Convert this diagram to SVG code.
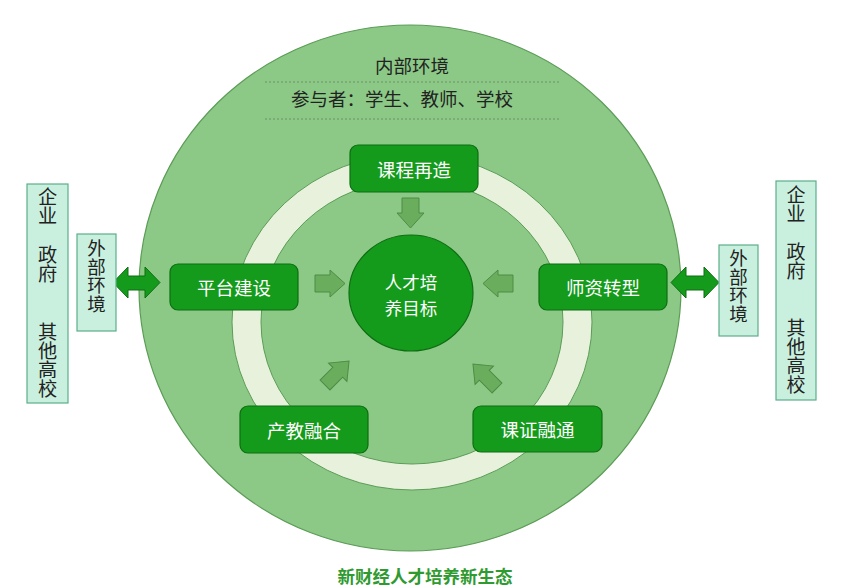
<svg xmlns="http://www.w3.org/2000/svg" width="857" height="587" viewBox="0 0 857 587">
<style>
text{font-family:"Noto Sans CJK SC","Noto Sans",sans-serif;dominant-baseline:central;text-anchor:middle}
.box{fill:#159b1b;stroke:#0d6e12;stroke-width:1.2}
.wt{fill:#ffffff;font-size:18.5px}
.dk{fill:#222222;font-size:18.5px}
.vt{fill:#222222;writing-mode:vertical-rl}
.mint{fill:#c9f0df;stroke:#5cae8a;stroke-width:1.2}
.arr{fill:#6aad5c;stroke:#4d8c45;stroke-width:1}
.dbl{fill:#159b1b;stroke:#0d6e12;stroke-width:1}
.dot{stroke:#6f8f6b;stroke-width:1.2;stroke-dasharray:2 2;fill:none}
</style>
<rect width="857" height="587" fill="#ffffff"/>
<g id="outer-circle">
<ellipse cx="410" cy="288" rx="271" ry="263" fill="#8cc986" stroke="#5c9c57" stroke-width="1.2"/>
</g>
<g id="ring">
<ellipse cx="412" cy="322" rx="180" ry="168" fill="#e7f1dc" stroke="#5c9c57" stroke-width="1"/>
<ellipse cx="412" cy="322" rx="151" ry="142" fill="#8cc986" stroke="#5c9c57" stroke-width="1"/>
</g>
<g id="inner-env">
<text class="dk" x="412" y="65">内部环境</text>
<line class="dot" x1="265" y1="82" x2="560" y2="82"/>
<text class="dk" x="402" y="98">参与者：学生、教师、学校</text>
<line class="dot" x1="265" y1="119" x2="560" y2="119"/>
</g>
<g id="connectors">
<polygon class="arr" points="402,198 419,198 419,213 424,213 410.5,228 397,213 402,213"/>
<polygon class="arr" points="315,275 330,275 330,270 345,283.5 330,297 330,292 315,292"/>
<polygon class="arr" points="513,275 498,275 498,270 483,283.5 498,297 498,292 513,292"/>
<polygon class="arr" transform="translate(325,385) rotate(-45)" points="0,-7 18,-7 18,-13 34,0 18,13 18,7 0,7"/>
<polygon class="arr" transform="translate(497,388) rotate(-135)" points="0,-7 18,-7 18,-13 34,0 18,13 18,7 0,7"/>
<polygon class="dbl" points="113,282.5 128,267 128,276 145,276 145,267 160,282.5 145,298 145,290 128,290 128,298"/>
<polygon class="dbl" points="671,282.5 686,267 686,276 704,276 704,267 719,282.5 704,298 704,290 686,290 686,298"/>
</g>
<g id="goal">
<ellipse cx="411" cy="293" rx="62" ry="58" fill="#159b1b" stroke="#0d6e12" stroke-width="1.2"/>
<text class="wt" style="font-size:17.5px"><tspan x="411" y="281">人才培</tspan><tspan x="411" y="306.5">养目标</tspan></text>
</g>
<g id="node-kecheng">
<rect class="box" x="350" y="145" width="128" height="47" rx="8"/>
<text class="wt" x="414" y="169">课程再造</text>
</g>
<g id="node-pingtai">
<rect class="box" x="170" y="264" width="128" height="46" rx="8"/>
<text class="wt" x="234" y="287">平台建设</text>
</g>
<g id="node-shizi">
<rect class="box" x="539" y="264" width="128" height="46" rx="8"/>
<text class="wt" x="603" y="287">师资转型</text>
</g>
<g id="node-chanjiao">
<rect class="box" x="240" y="406" width="128" height="47" rx="8"/>
<text class="wt" x="304" y="430">产教融合</text>
</g>
<g id="node-kezheng">
<rect class="box" x="473" y="406" width="129" height="46" rx="8"/>
<text class="wt" x="537.5" y="429">课证融通</text>
</g>
<g id="ext-left">
<rect class="mint" x="77" y="234" width="39" height="97"/>
<text class="vt" x="96.5" y="276" style="font-size:18.5px">外部环境</text>
</g>
<g id="ext-right">
<rect class="mint" x="719" y="245" width="39" height="91"/>
<text class="vt" x="738.5" y="286" style="font-size:18.5px">外部环境</text>
</g>
<g id="stake-left">
<rect class="mint" x="27" y="184" width="41" height="219"/>
<text class="vt" x="47.5" y="293" style="font-size:19.2px">企业　政府　　其他高校</text>
</g>
<g id="stake-right">
<rect class="mint" x="776" y="181" width="40" height="219"/>
<text class="vt" x="796" y="290" style="font-size:19px">企业　政府　　其他高校</text>
</g>
<g id="caption">
<text x="425" y="575" style="font-size:17.5px;font-weight:bold;fill:#2f9a2f">新财经人才培养新生态</text>
</g>
</svg>
